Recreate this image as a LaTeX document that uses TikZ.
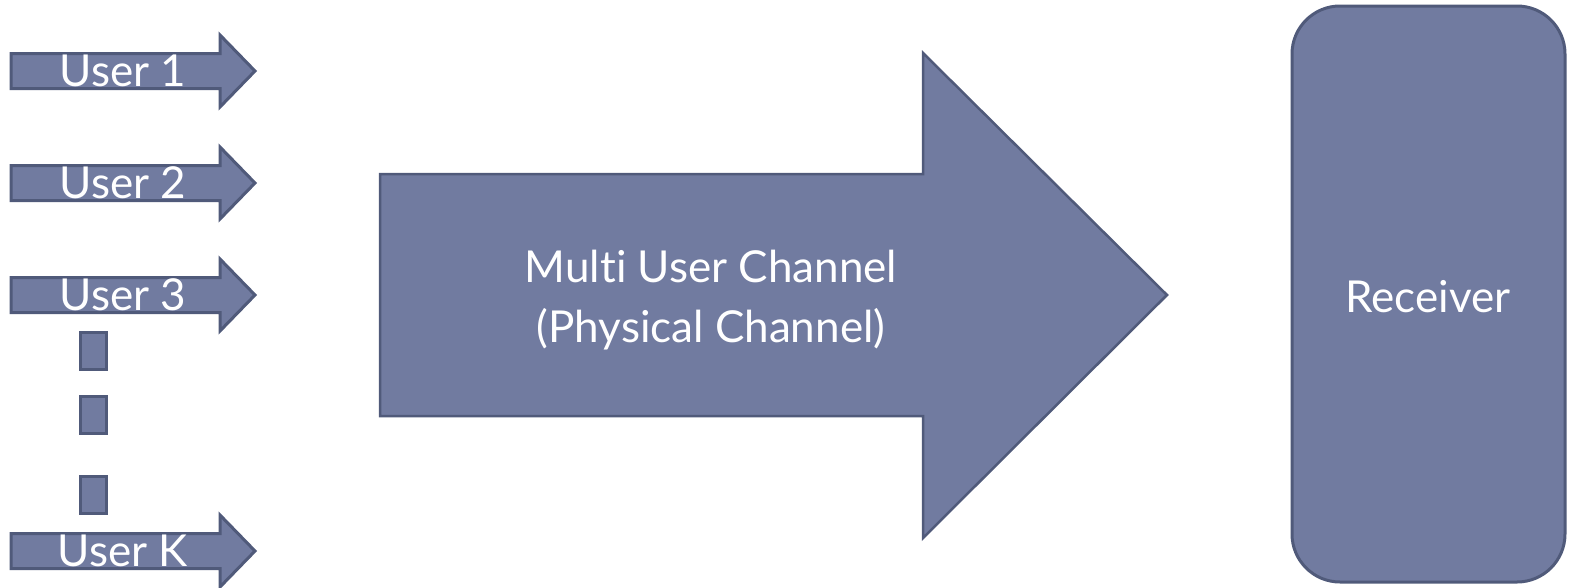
\documentclass[tikz,border=0pt]{standalone}
\usepackage{fontspec}
\setmainfont{Lato}[Ligatures={NoCommon}]
\definecolor{boxfill}{HTML}{717BA0}
\definecolor{boxline}{HTML}{505A7A}
\tikzset{
  blockshape/.style={fill=boxfill, draw=boxline, line width=3pt, line join=miter},
  usertext/.style={text=white, inner sep=0pt, font=\fontsize{44}{52}\selectfont},
  bigtext/.style={text=white, inner sep=0pt, align=center, font=\fontsize{44}{60}\selectfont}
}
\begin{document}
\begin{tikzpicture}[x=1pt, y=-1pt]
  \useasboundingbox (0,0) rectangle (1569,587);
  \foreach \name/\y/\txt in {one/71/User 1, two/183/User 2, three/295/User 3, k/551/User K} {
    \draw[blockshape] (11,\y-17.5) -- (220,\y-17.5) -- (220,\y-36) -- (255,\y)
      -- (220,\y+36) -- (220,\y+17.5) -- (11,\y+17.5) -- cycle;
    \node (\name) [usertext] at (123,\y) {\txt};
  }
  \foreach \y in {332, 396, 476} {
    \draw[blockshape] (80,\y) rectangle (106,\y+37);
  }
  \draw[blockshape, line width=2.5pt] (380,174) -- (923,174) -- (923,53) -- (1167,295)
    -- (923,538) -- (923,416) -- (380,416) -- cycle;
  \node (chan) [bigtext] at (711,300) {Multi User Channel\\(Physical Channel)};
  \draw[blockshape, rounded corners=48pt] (1292,6) rectangle (1565,582);
  \node (rx) [bigtext] at (1428,297) {Receiver};
\end{tikzpicture}
\end{document}
